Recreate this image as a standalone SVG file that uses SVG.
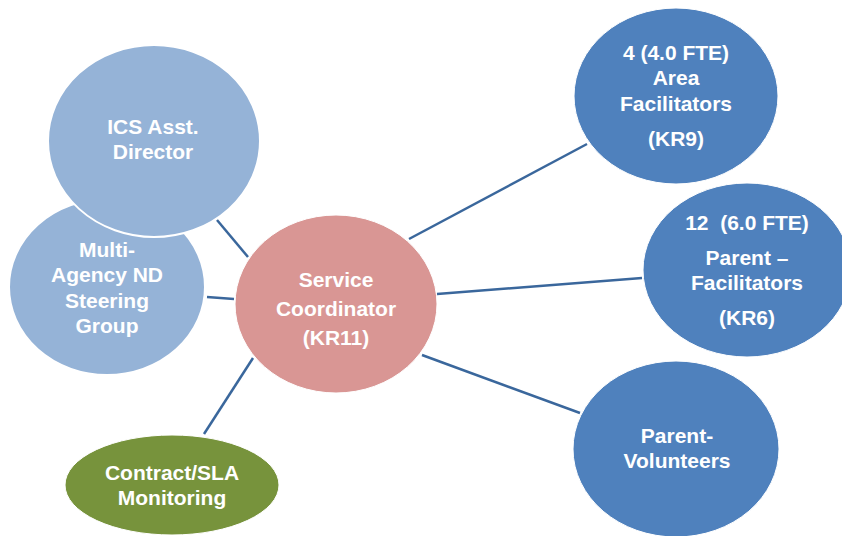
<svg xmlns="http://www.w3.org/2000/svg" width="842" height="536" viewBox="0 0 842 536">
<style>
.lbl{font-family:"Liberation Sans",Arial,sans-serif;font-weight:bold;font-size:21px;fill:#ffffff;text-anchor:middle}
.conn{stroke:#3A679C;stroke-width:2.5;fill:none;stroke-linecap:butt}
.lb{fill:#95B3D7;stroke:#ffffff;stroke-width:2}
.db{fill:#4F81BD;stroke:#ffffff;stroke-width:1}
</style>
<rect width="842" height="536" fill="#ffffff"/>
<g id="connectors">
<line class="conn" x1="217" y1="220" x2="248" y2="257"/>
<line class="conn" x1="207" y1="297" x2="234" y2="299"/>
<line class="conn" x1="409" y1="239" x2="587" y2="144"/>
<line class="conn" x1="437" y1="294" x2="642" y2="278"/>
<line class="conn" x1="422" y1="355" x2="580" y2="413"/>
<line class="conn" x1="253" y1="358" x2="204" y2="434"/>
</g>
<g id="multi-agency">
<ellipse class="lb" cx="107" cy="287" rx="98" ry="88"/>
<text class="lbl" x="107" y="257">Multi-</text>
<text class="lbl" x="107" y="282">Agency ND</text>
<text class="lbl" x="107" y="308">Steering</text>
<text class="lbl" x="107" y="333">Group</text>
</g>
<g id="ics-director">
<ellipse class="lb" cx="154" cy="141" rx="106" ry="96"/>
<text class="lbl" x="153" y="134">ICS Asst.</text>
<text class="lbl" x="153" y="159">Director</text>
</g>
<g id="service-coordinator">
<ellipse cx="336" cy="304" rx="101" ry="89" fill="#D99694" stroke="#ffffff" stroke-width="1"/>
<text class="lbl" x="336" y="287">Service</text>
<text class="lbl" x="336" y="316">Coordinator</text>
<text class="lbl" x="336" y="345">(KR11)</text>
</g>
<g id="contract-sla">
<ellipse cx="172" cy="485" rx="107" ry="50" fill="#77933C" stroke="#ffffff" stroke-width="1"/>
<text class="lbl" x="172" y="480">Contract/SLA</text>
<text class="lbl" x="172" y="505">Monitoring</text>
</g>
<g id="area-facilitators">
<ellipse class="db" cx="676" cy="96" rx="102" ry="88"/>
<text class="lbl" x="676" y="60">4 (4.0 FTE)</text>
<text class="lbl" x="676" y="85">Area</text>
<text class="lbl" x="676" y="111">Facilitators</text>
<text class="lbl" x="676" y="146">(KR9)</text>
</g>
<g id="parent-facilitators">
<ellipse class="db" cx="747" cy="270" rx="104" ry="87"/>
<text class="lbl" x="747" y="230" xml:space="preserve">12  (6.0 FTE)</text>
<text class="lbl" x="747" y="265">Parent –</text>
<text class="lbl" x="747" y="290">Facilitators</text>
<text class="lbl" x="747" y="325">(KR6)</text>
</g>
<g id="parent-volunteers">
<ellipse class="db" cx="676" cy="449" rx="103" ry="88"/>
<text class="lbl" x="677" y="443">Parent-</text>
<text class="lbl" x="677" y="468">Volunteers</text>
</g>
</svg>
